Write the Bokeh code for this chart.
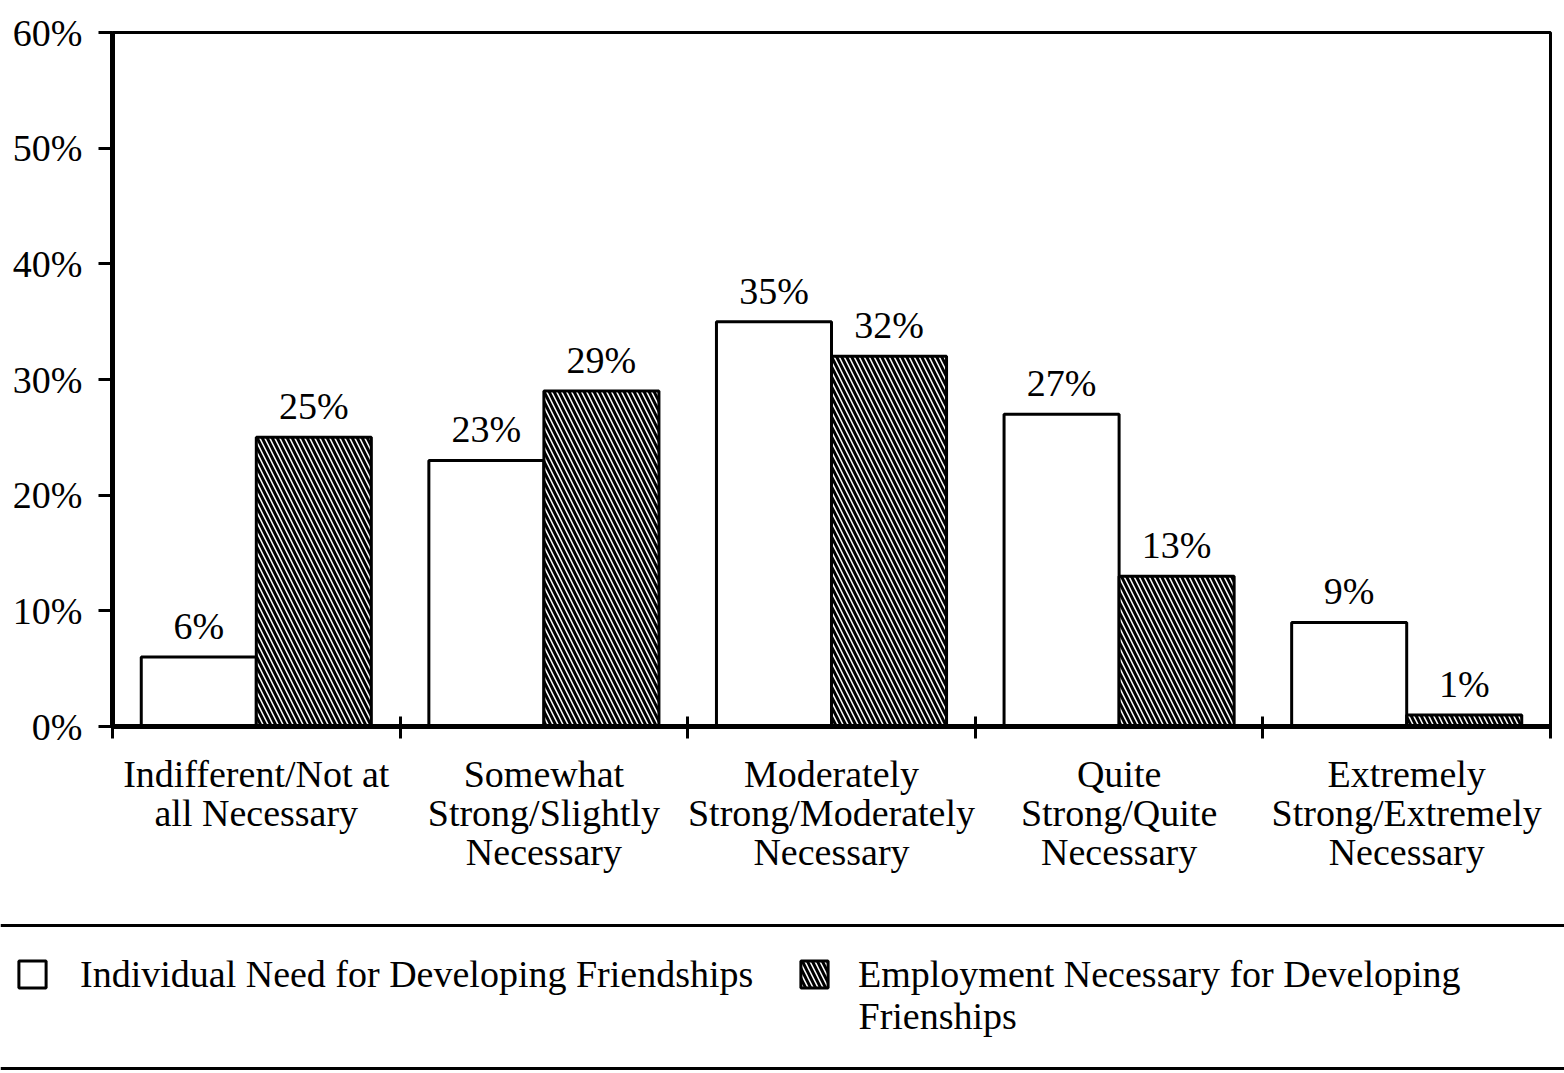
from bokeh.plotting import figure
from bokeh.models import (ColumnDataSource, Range1d, FixedTicker, NumeralTickFormatter,
                          Legend, LegendItem, Span, LinearAxis, Label)
from bokeh.layouts import column
from bokeh.transform import dodge
from bokeh.core.properties import value
from bokeh.embed import file_html
from bokeh.resources import INLINE

categories = ["Indifferent/Not at\nall Necessary",
              "Somewhat\nStrong/Slightly\nNecessary",
              "Moderately\nStrong/Moderately\nNecessary",
              "Quite\nStrong/Quite\nNecessary",
              "Extremely\nStrong/Extremely\nNecessary"]
individual = [6, 23, 35, 27, 9]
employment = [25, 29, 32, 13, 1]
series_names = ["Individual Need for Developing Friendships",
                ["Employment Necessary for Developing", "Frienships"]]
y_ticks = [0, 10, 20, 30, 40, 50, 60]

FONT = "Liberation Serif"
FS = "38px"

xs = [i + 0.5 for i in range(len(categories))]
src = ColumnDataSource(dict(
    x=xs,
    ind=[v / 100 for v in individual],
    emp=[v / 100 for v in employment],
    ind_lbl=[f"{v}%" for v in individual],
    emp_lbl=[f"{v}%" for v in employment],
))

p = figure(width=1564, height=920, output_backend="svg", toolbar_location=None,
           x_range=Range1d(0, len(categories)), y_range=Range1d(0, y_ticks[-1] / 100),
           x_axis_type=None, y_axis_type=None,
           min_border_left=112, min_border_right=14, min_border_top=32, min_border_bottom=194)
p.frame_align = False
p.outline_line_color = "black"
p.outline_line_width = 3
p.background_fill_color = "white"
p.border_fill_color = "white"

yax = LinearAxis(ticker=FixedTicker(ticks=[t / 100 for t in y_ticks], minor_ticks=[]),
                 formatter=NumeralTickFormatter(format="0%"))
yax.axis_line_width = 5
yax.axis_line_color = "black"
yax.major_tick_in = 0
yax.major_tick_out = 14
yax.major_tick_line_width = 3
yax.major_tick_line_color = "black"
yax.minor_tick_line_color = None
yax.major_label_text_font = FONT
yax.major_label_text_font_size = FS
yax.major_label_text_color = "black"
yax.major_label_standoff = 16
p.add_layout(yax, "left")

xax = LinearAxis(ticker=FixedTicker(ticks=xs, minor_ticks=list(range(len(categories) + 1))))
xax.major_label_overrides = {x: c for x, c in zip(xs, categories)}
xax.axis_line_width = 5
xax.axis_line_color = "black"
xax.major_tick_in = 0
xax.major_tick_out = 0
xax.minor_tick_in = 10
xax.minor_tick_out = 12
xax.minor_tick_line_width = 3
xax.minor_tick_line_color = "black"
xax.major_label_text_font = FONT
xax.major_label_text_font_size = FS
xax.major_label_text_color = "black"
xax.major_label_text_line_height = 0.93
xax.major_label_standoff = 14
p.add_layout(xax, "below")

bar_kw = dict(width=0.4, fill_color="white", line_color="black", line_width=3)
hatch_kw = dict(hatch_pattern="\\", hatch_color="black", hatch_scale=10, hatch_weight=3)
p.vbar(x=dodge("x", -0.2), top="ind", source=src, **bar_kw)
p.vbar(x=dodge("x", 0.2), top="emp", source=src, **hatch_kw, **bar_kw)

txt_kw = dict(source=src, text_align="center", text_baseline="bottom", y_offset=-10,
              text_font=value(FONT), text_font_size=FS, text_color="black")
p.text(x=dodge("x", -0.2), y="ind", text="ind_lbl", **txt_kw)
p.text(x=dodge("x", 0.2), y="emp", text="emp_lbl", **txt_kw)

# legend panel
lg = figure(width=1564, height=153, output_backend="svg", toolbar_location=None,
            x_range=Range1d(0, 1), y_range=Range1d(0, 1),
            x_axis_type=None, y_axis_type=None, min_border=0, outline_line_color=None)
lg.frame_align = False
lg.background_fill_color = "white"
lg.border_fill_color = "white"
# legend proxies share the chart's data but are not drawn themselves
r1 = lg.vbar(x="x", top="ind", source=src, visible=False, **bar_kw)
r2 = lg.vbar(x="x", top="emp", source=src, visible=False, **hatch_kw, **bar_kw)
lg.add_layout(Span(location=0.967, dimension="width", line_color="black", line_width=3))
lg.add_layout(Span(location=0.033, dimension="width", line_color="black", line_width=3))

leg_kw = dict(orientation="horizontal", margin=0, padding=0,
              glyph_width=34, glyph_height=34,
              label_text_font=FONT, label_text_font_size=FS, label_text_color="black",
              label_text_line_height=0.95, click_policy="none",
              border_line_alpha=0, background_fill_alpha=0)
leg1 = Legend(items=[LegendItem(label=series_names[0], renderers=[r1])],
              location=(15, 77), label_standoff=31, **leg_kw)
leg2 = Legend(items=[LegendItem(label=series_names[1][0], renderers=[r2])],
              location=(797, 77), label_standoff=27, **leg_kw)
lg.add_layout(leg1, "center")
lg.add_layout(leg2, "center")
lg.add_layout(Label(x=858 / 1564, y=0.375, text=series_names[1][1], text_font=FONT,
                    text_font_size=FS, text_color="black", text_baseline="middle",
                    text_align="left"))

layout = column(p, lg, spacing=0)
open("out.html", "w").write(file_html(layout, INLINE))
